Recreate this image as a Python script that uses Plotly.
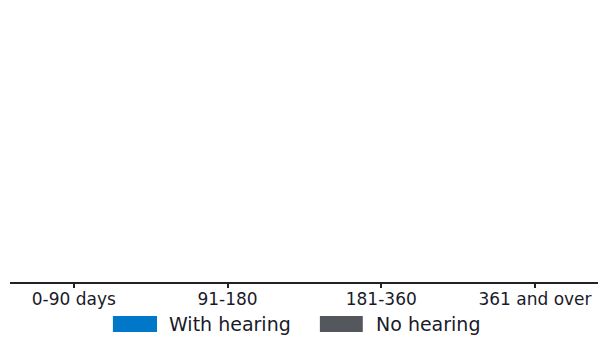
import plotly.graph_objects as go

categories = ["0-90 days", "91-180", "181-360", "361 and over"]
with_hearing = [0, 0, 0, 0]
no_hearing = [0, 0, 0, 0]
series_names = ["With hearing", "No hearing"]
series_colors = ["#0077C8", "#54585C"]

FONT = "DejaVu Sans"
TEXT_COLOR = "#1a1a2a"

fig = go.Figure()
fig.add_trace(go.Bar(x=list(range(len(categories))), y=with_hearing, name=series_names[0],
                     marker=dict(color=series_colors[0], line=dict(width=0)), showlegend=False))
fig.add_trace(go.Bar(x=list(range(len(categories))), y=no_hearing, name=series_names[1],
                     marker=dict(color=series_colors[1], line=dict(width=0)), showlegend=False))

# page body has an 8px margin, so the figure is sized to fit the window
fig.update_layout(
    width=608, height=333,
    margin=dict(l=2, r=18, t=2, b=59),
    paper_bgcolor="white", plot_bgcolor="white",
    barmode="group",
    font=dict(family=FONT, size=17, color=TEXT_COLOR),
    xaxis=dict(
        tickmode="array", tickvals=list(range(len(categories))), ticktext=categories,
        range=[-0.415, 3.41], showline=True, linecolor="#222222", linewidth=2,
        ticks="outside", ticklen=4, tickwidth=2, tickcolor="#222222",
        ticklabelstandoff=-3,
        showgrid=False, zeroline=False, fixedrange=True,
        tickfont=dict(family=FONT, size=17, color=TEXT_COLOR),
    ),
    yaxis=dict(range=[0, 1], visible=False, showgrid=False, zeroline=False, fixedrange=True),
)

# Custom legend with wide swatches
legend_items = [
    (0.175, 0.250, 0.267),
    (0.527, 0.600, 0.619),
]
for (x0, x1, xt), name, color in zip(legend_items, series_names, series_colors):
    fig.add_shape(type="rect", xref="paper", yref="paper", x0=x0, x1=x1,
                  y0=-0.184, y1=-0.125, fillcolor=color, line=dict(width=0))
    fig.add_annotation(x=xt, y=-0.154, xref="paper", yref="paper", text=name,
                       showarrow=False, xanchor="left", yanchor="middle",
                       font=dict(family=FONT, size=19, color=TEXT_COLOR))

fig.write_html("out.html")
